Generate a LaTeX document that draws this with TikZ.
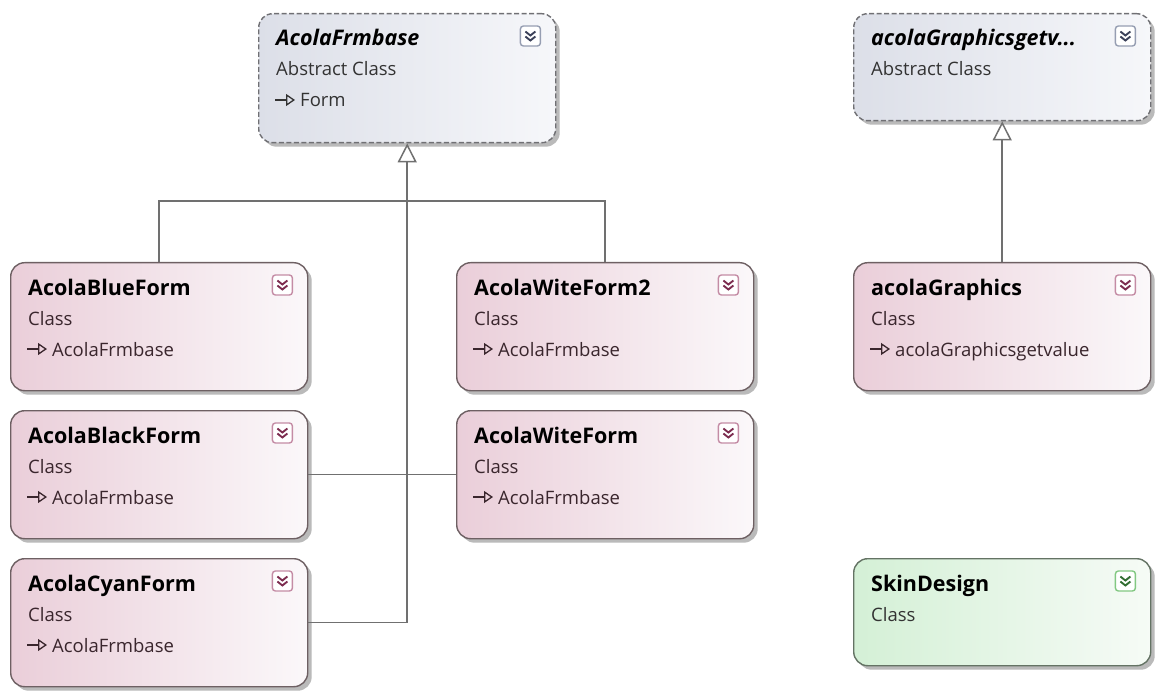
\documentclass[tikz,border=0pt]{standalone}
\usepackage{fontspec}
\setmainfont{Open Sans}
\usetikzlibrary{arrows.meta,calc,shadows}

\definecolor{clsline}{RGB}{110,96,99}
\definecolor{clsL}{RGB}{234,206,217}
\definecolor{clsR}{RGB}{251,248,250}
\definecolor{clstext}{RGB}{58,38,45}
\definecolor{clsicon}{RGB}{196,140,165}
\definecolor{clschev}{RGB}{125,45,80}
\definecolor{absline}{RGB}{112,112,116}
\definecolor{absL}{RGB}{220,223,232}
\definecolor{absR}{RGB}{246,247,250}
\definecolor{absicon}{RGB}{150,158,178}
\definecolor{abschev}{RGB}{60,66,90}
\definecolor{skinline}{RGB}{100,115,100}
\definecolor{skinL}{RGB}{212,240,214}
\definecolor{skinR}{RGB}{246,251,246}
\definecolor{skinicon}{RGB}{130,200,130}
\definecolor{skinchev}{RGB}{50,110,50}
\definecolor{linkgray}{RGB}{112,112,112}

\tikzset{
  box/.style={rounded corners=14pt, anchor=north west, inner sep=0pt,
    line width=1.4pt, minimum width=297pt,
    drop shadow={shadow xshift=4pt, shadow yshift=-4pt, fill=black!45, opacity=.6}},
  classbox/.style={box, draw=clsline, minimum height=128pt,
    left color=clsL, right color=clsR},
  absbox/.style={box, draw=absline, dash pattern=on 5pt off 2.5pt,
    left color=absL, right color=absR},
  skinbox/.style={box, draw=skinline, minimum height=107pt,
    left color=skinL, right color=skinR},
  title/.style={anchor=base west, inner sep=0pt,
    font=\fontsize{21.5}{25}\selectfont\bfseries},
  kind/.style={anchor=base west, inner sep=0pt,
    font=\fontsize{18.5}{22}\selectfont},
  toggle/.style={draw, rounded corners=3pt, minimum size=20pt, inner sep=0pt,
    fill=white, line width=1.4pt},
  chev/.style={line width=1.9pt},
  glyph/.style={line width=1.7pt,
    -{Triangle[open,length=9pt,width=12pt,line width=1.3pt]}},
  link/.style={draw=linkgray, line width=1.5pt},
  inherit/.style={link, -{Triangle[open,length=19pt,width=19pt,line width=1.5pt]}},
}

\begin{document}
\begin{tikzpicture}[x=1pt,y=1pt]
  \fill[white] (0,0) rectangle (1155,-692);
  \useasboundingbox (0,0) rectangle (1155,-692);

  % abstract classes
  \node[absbox, minimum height=129pt] (base) at (258,-13) {};
  \node[title, font=\fontsize{21.5}{25}\selectfont\bfseries\itshape]
    (base-name) at ($(base.north west)+(18pt,-33pt)$) {AcolaFrmbase};
  \node[kind, text=black!80] (base-kind) at ($(base.north west)+(18pt,-63pt)$) {Abstract Class};
  \node[kind, text=black!80] (base-base) at ($(base.north west)+(42pt,-94pt)$) {Form};
  \draw[glyph, draw=black!80] ($(base-base.base west)+(-25pt,7pt)$) -- ++(20pt,0);

  \node[absbox, minimum height=107pt] (getv) at (853,-13) {};
  \node[title, font=\fontsize{21.5}{25}\selectfont\bfseries\itshape]
    (getv-name) at ($(getv.north west)+(18pt,-33pt)$) {acolaGraphicsgetv...};
  \node[kind, text=black!80] (getv-kind) at ($(getv.north west)+(18pt,-63pt)$) {Abstract Class};

  % classes derived from AcolaFrmbase
  \foreach \n/\x/\y/\t in {blue/10/262/AcolaBlueForm, black/10/410/AcolaBlackForm,
      cyan/10/558/AcolaCyanForm, wite2/456/262/AcolaWiteForm2,
      wite/456/410/AcolaWiteForm}{
    \node[classbox] (\n) at (\x,-\y) {};
    \node[title] (\n-name) at ($(\n.north west)+(18pt,-33pt)$) {\t};
    \node[kind, text=clstext] (\n-kind) at ($(\n.north west)+(18pt,-63pt)$) {Class};
    \node[kind, text=clstext] (\n-base) at ($(\n.north west)+(42pt,-94pt)$) {AcolaFrmbase};
    \draw[glyph, draw=clstext] ($(\n-base.base west)+(-25pt,7pt)$) -- ++(20pt,0);
  }

  \node[classbox] (graphics) at (853,-262) {};
  \node[title] (graphics-name) at ($(graphics.north west)+(18pt,-33pt)$) {acolaGraphics};
  \node[kind, text=clstext] (graphics-kind) at ($(graphics.north west)+(18pt,-63pt)$) {Class};
  \node[kind, text=clstext] (graphics-base) at ($(graphics.north west)+(42pt,-94pt)$) {acolaGraphicsgetvalue};
  \draw[glyph, draw=clstext] ($(graphics-base.base west)+(-25pt,7pt)$) -- ++(20pt,0);

  \node[skinbox] (skin) at (853,-558) {};
  \node[title] (skin-name) at ($(skin.north west)+(18pt,-33pt)$) {SkinDesign};
  \node[kind, text=black!80] (skin-kind) at ($(skin.north west)+(18pt,-63pt)$) {Class};

  % collapse toggles
  \foreach \b/\c/\k in {base/absicon/abschev, getv/absicon/abschev,
      blue/clsicon/clschev, black/clsicon/clschev, cyan/clsicon/clschev,
      wite2/clsicon/clschev, wite/clsicon/clschev, graphics/clsicon/clschev,
      skin/skinicon/skinchev}{
    \node[toggle, draw=\c] (\b-t) at ($(\b.north east)+(-26pt,-23pt)$) {};
    \draw[chev, draw=\k] ($(\b-t.center)+(-5pt,4.5pt)$) -- ++(5pt,-4pt) -- ++(5pt,4pt);
    \draw[chev, draw=\k] ($(\b-t.center)+(-5pt,-0.5pt)$) -- ++(5pt,-4pt) -- ++(5pt,4pt);
  }

  % inheritance lines
  \coordinate (bar) at (406,-201);
  \draw[link] (blue.north) |- (bar) -| (wite2.north);
  \draw[link] (black.east) -- (wite.west);
  \draw[inherit] (cyan.east) -| (base.south);
  \draw[inherit] (graphics.north) -- (getv.south);
\end{tikzpicture}
\end{document}
